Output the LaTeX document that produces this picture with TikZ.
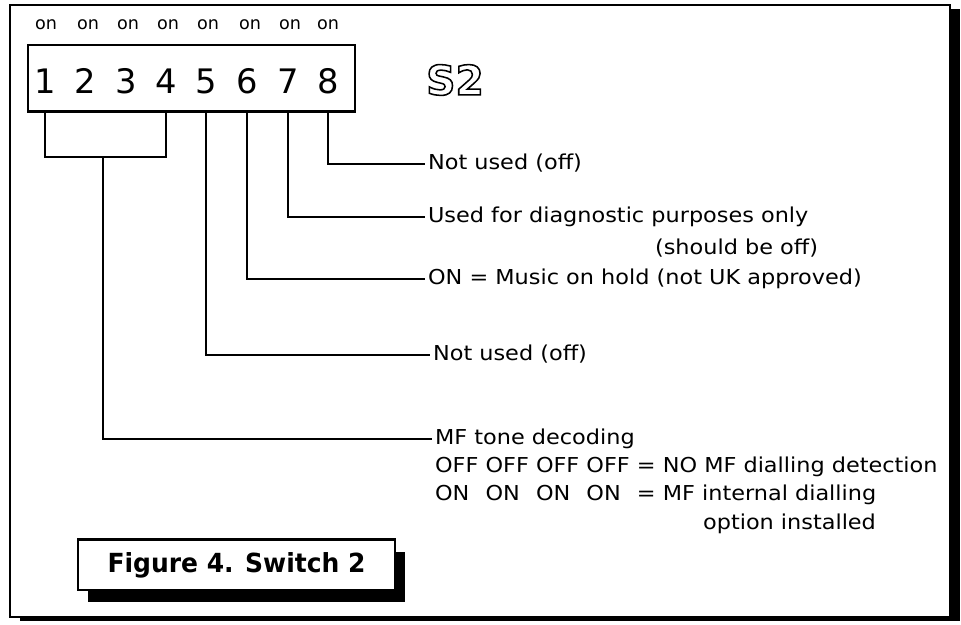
\documentclass[tikz,border=0pt]{standalone}
\usepackage{fontspec}
\setmainfont{DejaVu Sans}[FakeStretch=1.09]
\newfontfamily\numfont{DejaVu Sans}
\newfontfamily\capfont{DejaVu Sans}[FakeStretch=0.95]
\usetikzlibrary{shadows}
\newcommand\swon{\rlap{ON}\phantom{OFF}}
\newcommand\hollow[1]{\special{pdf:code 1 Tr 1.1 w}#1\special{pdf:code 0 Tr}}
\tikzset{
  onlbl/.style={   % "on" above each switch
    font=\numfont\fontsize{12.5}{14}\selectfont, inner sep=1pt
  },
  swnum/.style={   % switch number
    font=\numfont\fontsize{24}{26}\selectfont, inner sep=1pt
  },
  swframe/.style={ % the switch block
    draw=black, fill=white, line width=0.8pt,
    minimum width=8.175cm, minimum height=1.65cm, inner sep=0pt
  },
  s2lbl/.style={   % outlined S2
    font=\numfont\bfseries\fontsize{29}{30}\selectfont, inner sep=1pt
  },
  lbl/.style={     % leader text
    anchor=west, font=\fontsize{14.6}{16}\selectfont,
    inner sep=2pt, text height=11pt, text depth=3pt
  },
  capbox/.style={  % figure caption
    draw=black, fill=white, line width=1pt,
    minimum width=7.925cm, minimum height=1.25cm,
    font=\capfont\bfseries\fontsize{18.7}{20}\selectfont,
    drop shadow={shadow xshift=0.25cm, shadow yshift=-0.3cm,
                 opacity=1, fill=black}
  },
  lead/.style={line width=1pt, color=black},
}

\begin{document}
\begin{tikzpicture}[x=0.025cm, y=-0.025cm]
\useasboundingbox (0,0) rectangle (961,625);

%% ─── Outer frame ─────────────────────────────────────────────────────────────
\draw[line width=1.2pt, fill=white,
      drop shadow={shadow xshift=0.25cm, shadow yshift=-0.1cm,
                   opacity=1, fill=black}]
  (10,5) rectangle (950,617);

%% ─── Switch block ────────────────────────────────────────────────────────────
\node[swframe] (swbox) at (191.5, 78) {};
\draw[line width=1.8pt] (swbox.south west) -- (swbox.south east);

\node[onlbl] (on1) at ( 46, 25) {on};
\node[onlbl] (on2) at ( 88, 25) {on};
\node[onlbl] (on3) at (128, 25) {on};
\node[onlbl] (on4) at (168, 25) {on};
\node[onlbl] (on5) at (208, 25) {on};
\node[onlbl] (on6) at (250, 25) {on};
\node[onlbl] (on7) at (290, 25) {on};
\node[onlbl] (on8) at (328, 25) {on};

\node[swnum] (sw1) at ( 45, 81) {1};
\node[swnum] (sw2) at ( 85, 81) {2};
\node[swnum] (sw3) at (126, 81) {3};
\node[swnum] (sw4) at (166, 81) {4};
\node[swnum] (sw5) at (206, 81) {5};
\node[swnum] (sw6) at (247, 81) {6};
\node[swnum] (sw7) at (288, 81) {7};
\node[swnum] (sw8) at (328, 81) {8};

\node[s2lbl] (s2) at (455, 80) {\hollow{S2}};

%% ─── Leader texts ────────────────────────────────────────────────────────────
\node[lbl] (t8)   at (425, 164) {Not used (off)};
\node[lbl] (t7)   at (425, 217) {Used for diagnostic purposes only};
\node[lbl] (t7b)  at (652, 249) {(should be off)};
\node[lbl] (t6)   at (425, 279) {ON = Music on hold (not UK approved)};
\node[lbl] (t5)   at (430, 355) {Not used (off)};
\node[lbl] (tmf)  at (432, 439) {MF tone decoding};
\node[lbl] (toff) at (432, 467) {OFF OFF OFF OFF = NO MF dialling detection};
\node[lbl] (ton)  at (432, 495) {\swon\ \swon\ \swon\ \swon\ = MF internal dialling};
\node[lbl] (topt) at (700, 524) {option installed};

%% ─── Leaders ─────────────────────────────────────────────────────────────────
\draw[lead] (sw8 |- swbox.south) |- (t8.west);
\draw[lead] (sw7 |- swbox.south) |- (t7.west);
\draw[lead] (sw6 |- swbox.south) |- (t6.west);
\draw[lead] (sw5 |- swbox.south) |- (t5.west);

% bracket over switches 1-4, then down to MF text
\coordinate (brk) at (103, 157);
\draw[lead] (sw1 |- swbox.south) |- (brk) -| (sw4 |- swbox.south);
\draw[lead] (brk) |- (tmf.west);

%% ─── Caption ─────────────────────────────────────────────────────────────────
\node[capbox] (cap) at (236.5, 565) {Figure 4. Switch 2};
\draw[line width=2pt] (cap.north west) -- (cap.north east);

\end{tikzpicture}
\end{document}
